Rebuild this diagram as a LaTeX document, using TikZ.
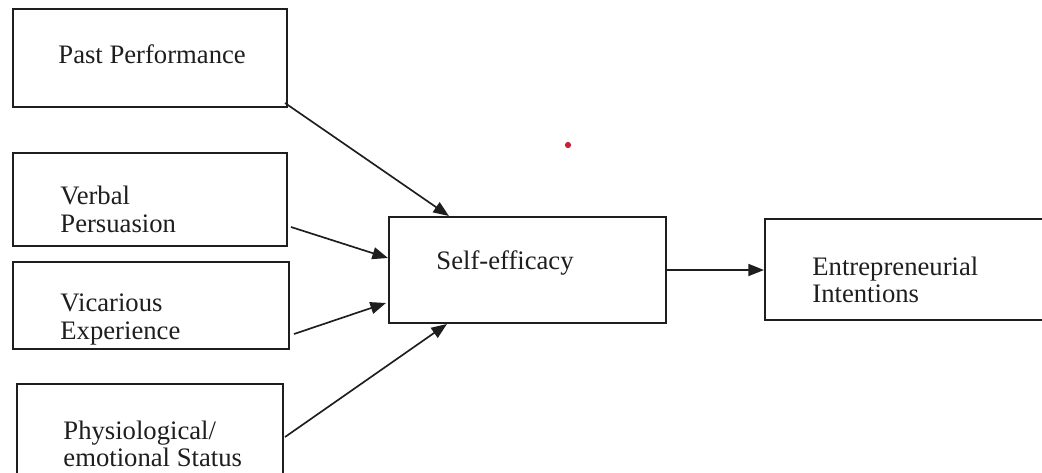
\documentclass[tikz,border=0pt]{standalone}
\usepackage{fontspec}
\setmainfont{Liberation Serif}
\usetikzlibrary{arrows.meta, calc}
\definecolor{inkdark}{RGB}{30, 30, 30}
\definecolor{dotred}{RGB}{205, 30, 55}

\begin{document}
\begin{tikzpicture}[x=0.45pt, y=-0.45pt,
        font=\fontsize{12}{12.3}\selectfont,
        factorbox/.style={rectangle, draw=inkdark, line width=0.9pt, fill=white, inner sep=0pt},
        boxtext/.style={anchor=west, align=left, inner sep=0pt, text=inkdark},
        link/.style={-{Triangle[length=7pt, width=5.4pt]}, line width=0.75pt, inkdark}
    ]
        \clip (0,0) rectangle (1042,472);
        \fill[white] (0,0) rectangle (1042,472);
        \node[factorbox, minimum width=123.3pt, minimum height=44.1pt] (past) at (150,58) {};
        \node[factorbox, minimum width=123.3pt, minimum height=41.9pt] (verbal) at (150,199.5) {};
        \node[factorbox, minimum width=124.2pt, minimum height=39.2pt] (vicar) at (151,305.5) {};
        \node[factorbox, minimum width=119.7pt, minimum height=52.2pt] (physio) at (150,442) {};
        \node[factorbox, minimum width=124.7pt, minimum height=47.7pt] (self) at (527.5,270) {};
        \node[factorbox, minimum width=128.3pt, minimum height=45.5pt] (entre) at (907.5,269.5) {};
        \node[boxtext] (pastT) at (58,54) {Past Performance};
        \node[boxtext] (verbalT) at (60,209.5) {Verbal\\Persuasion};
        \node[boxtext] (vicarT) at (60,319.5) {Vicarious\\Experience};
        \node[boxtext] (physioT) at (63,444) {Physiological/\\emotional Status};
        \node[boxtext] (selfT) at (436,263) {Self-efficacy};
        \node[boxtext] (entreT) at (812,280) {Entrepreneurial\\Intentions};
        \draw[link] ($(past.south east)+(-3,-5)$) -- ($(self.north west)+(61,0)$);
        \draw[link] ($(verbal.east)+(3,27.5)$) -- ($(self.west)+(0,-12)$);
        \draw[link] ($(vicar.east)+(4,28.5)$) -- ($(self.south west)+(-2,-21)$);
        \draw[link] ($(physio.east)+(1,-5)$) -- ($(self.south west)+(59,0)$);
        \draw[link] (self.east) -- (self.east -| entre.west);
        \fill[dotred] (568,145) circle (1.4pt);
    \end{tikzpicture}
\end{document}
